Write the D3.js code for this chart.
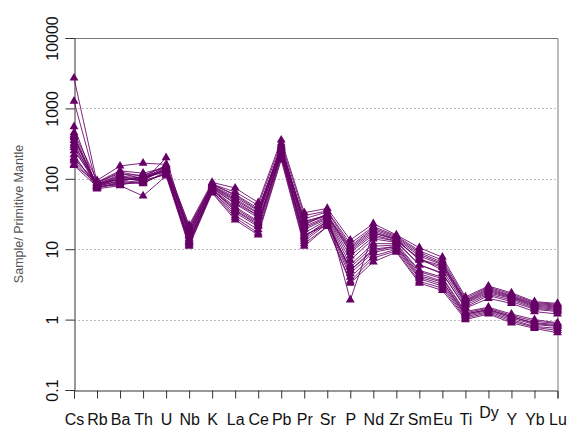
<!DOCTYPE html>
<html>
<head>
<meta charset="utf-8">
<script src="https://cdn.jsdelivr.net/npm/d3@7"></script>
<style>
  body { margin: 0; background: #fff; }
  text { font-family: Arial, "Liberation Sans", sans-serif; }
</style>
</head>
<body>
<div id="chart"></div>
<script>
// element order of the spider diagram
const elements = ["Cs","Rb","Ba","Th","U","Nb","K","La","Ce","Pb","Pr","Sr","P","Nd","Zr","Sm","Eu","Ti","Dy","Y","Yb","Lu"];
const yTicks = [0.1, 1, 10, 100, 1000, 10000];
const yTitle = "Sample/ Primitive Mantle";

// sample / primitive mantle, one array per sample
const s01 = [2700, 88, 120, 100, 150, 15, 75, 45, 30, 250, 20, 28, 8, 15, 13, 6, 4.5, 1.5, 2.2, 1.8, 1.4, 1.3];
const s02 = [1270, 80, 100, 95, 140, 18, 80, 55, 35, 280, 25, 30, 10, 18, 14, 8, 6, 1.8, 2.6, 2.1, 1.6, 1.5];
const s03 = [550, 75, 90, 110, 130, 13, 70, 35, 22, 230, 15, 25, 5, 10, 11, 4.5, 3.5, 1.2, 1.4, 1.1, 0.9, 0.85];
const s04 = [450, 95, 152, 167, 160, 22, 89, 74, 46, 355, 33, 38, 13.5, 23, 16, 10.5, 7.7, 2.1, 3.0, 2.4, 1.8, 1.7];
const s05 = [400, 72, 80, 57, 110, 11, 63, 26, 16, 186, 11, 21, 3.3, 6.6, 9.1, 3.3, 2.6, 1.0, 1.2, 0.9, 0.75, 0.65];
const s06 = [350, 85, 110, 90, 200, 16, 78, 50, 32, 300, 22, 32, 1.9, 17, 14, 7, 5.5, 1.7, 2.4, 2.0, 1.5, 1.4];
const s07 = [320, 78, 95, 105, 125, 12, 68, 30, 19, 210, 13, 23, 4, 8, 10, 3.8, 3.0, 1.1, 1.3, 1.0, 0.8, 0.75];
const s08 = [300, 82, 105, 100, 135, 20, 82, 60, 38, 260, 27, 34, 11, 20, 15, 9, 6.5, 1.9, 2.8, 2.2, 1.7, 1.6];
const s09 = [280, 76, 85, 88, 120, 14, 72, 40, 25, 240, 17, 26, 6, 12, 12, 5, 4, 1.3, 1.5, 1.2, 1.0, 0.9];
const s10 = [250, 90, 130, 120, 145, 17, 76, 48, 30, 270, 21, 29, 9, 16, 13, 7.5, 5, 1.6, 2.3, 1.9, 1.45, 1.35];
const s11 = [220, 74, 88, 95, 115, 12.5, 66, 33, 21, 220, 14, 24, 4.5, 9, 10.5, 4, 3.2, 1.15, 1.35, 1.05, 0.85, 0.8];
const s12 = [200, 84, 115, 112, 150, 19, 85, 58, 36, 290, 24, 31, 10.5, 19, 14.5, 8.5, 6.2, 1.85, 2.7, 2.15, 1.65, 1.55];
const s13 = [180, 79, 92, 85, 128, 14, 70, 38, 24, 225, 16, 22, 5.5, 11, 11.5, 4.8, 3.8, 1.25, 1.45, 1.15, 0.95, 0.88];
const s14 = [160, 86, 98, 100, 138, 16, 74, 44, 28, 255, 19, 27, 7, 14, 12.5, 6, 4.6, 1.45, 2.0, 1.7, 1.3, 1.2];
const s15 = [155, 77, 82, 92, 118, 11.5, 65, 28, 17, 200, 12, 21, 3.5, 7.5, 9.5, 3.5, 2.8, 1.05, 1.25, 0.95, 0.78, 0.7];
const s16 = [380, 81, 108, 104, 142, 18, 79, 52, 33, 275, 23, 30, 9.5, 17, 13.5, 7.2, 5.8, 1.75, 2.5, 2.05, 1.55, 1.45];
const s17 = [420, 80, 100, 98, 132, 13, 71, 36, 23, 235, 15, 25, 5, 9.5, 11, 4.2, 3.4, 1.2, 1.38, 1.1, 0.88, 0.82];
const s18 = [190, 88, 125, 108, 155, 21, 84, 65, 42, 320, 30, 35, 12, 21, 15.5, 9.5, 7, 2.0, 2.9, 2.3, 1.75, 1.65];
const samples = [s01, s02, s03, s04, s05, s06, s07, s08, s09, s10, s11, s12, s13, s14, s15, s16, s17, s18];

const width = 572, height = 428;
const margin = {top: 38, right: 14.5, bottom: 38, left: 74};
const purple = "#660066";

const svg = d3.select("#chart").append("svg")
    .attr("width", width)
    .attr("height", height);

const x = d3.scalePoint()
    .domain(elements)
    .range([margin.left, width - margin.right]);

const y = d3.scaleLog()
    .domain([0.1, 10000])
    .range([height - margin.bottom, margin.top]);

// dotted gridlines
svg.append("g")
  .selectAll("line")
  .data(yTicks.filter(d => d > 0.1 && d < 10000))
  .join("line")
    .attr("x1", margin.left)
    .attr("x2", width - margin.right)
    .attr("y1", d => Math.round(y(d)) + 0.5)
    .attr("y2", d => Math.round(y(d)) + 0.5)
    .attr("stroke", "#bdbdbd")
    .attr("stroke-dasharray", "2,2");

// plot frame (top + right)
svg.append("path")
    .attr("d", `M${margin.left},${margin.top + 0.5}H${width - margin.right + 0.5}V${height - margin.bottom}`)
    .attr("fill", "none")
    .attr("stroke", "#7a7a7a");

// y axis
const yAxis = svg.append("g")
    .attr("transform", `translate(${margin.left + 0.5},0)`)
    .call(d3.axisLeft(y).tickValues(yTicks).tickSize(9).tickFormat(d3.format("")));
yAxis.select(".domain").attr("stroke", "#333");
yAxis.selectAll(".tick line").attr("stroke", "#333");
yAxis.selectAll(".tick text")
    .attr("font-size", 16)
    .attr("fill", "#111")
    .attr("x", null).attr("dy", null)
    .attr("text-anchor", "middle")
    .attr("transform", "translate(-17,0) rotate(-90)");

// x axis
const xAxis = svg.append("g")
    .attr("transform", `translate(0,${height - margin.bottom + 0.5})`)
    .call(d3.axisBottom(x).tickSize(8).tickPadding(15));
xAxis.select(".domain").attr("stroke", "#333");
xAxis.selectAll(".tick line").attr("stroke", "#333");
xAxis.selectAll(".tick text")
    .attr("font-size", 16)
    .attr("fill", "#111")
    .attr("dy", d => d === "Dy" ? "0.3em" : "0.71em");

// y title
svg.append("text")
    .attr("transform", `translate(23,${(margin.top + height - margin.bottom) / 2}) rotate(-90)`)
    .attr("text-anchor", "middle")
    .attr("font-size", 12.5)
    .attr("fill", "#555")
    .text(yTitle);

const line = d3.line()
    .x((d, i) => x(elements[i]))
    .y(d => y(d));

const series = svg.append("g")
  .selectAll("g")
  .data(samples)
  .join("g");

series.append("path")
    .attr("d", d => line(d))
    .attr("fill", "none")
    .attr("stroke", purple)
    .attr("stroke-opacity", 0.85)
    .attr("stroke-width", 1);

const tri = d3.symbol().type(d3.symbolTriangle).size(34);
series.selectAll("path.m")
  .data(d => d.map((v, i) => ({v, i})))
  .join("path")
    .attr("class", "m")
    .attr("d", tri)
    .attr("transform", d => `translate(${x(elements[d.i])},${y(d.v)})`)
    .attr("fill", purple);
</script>
</body>
</html>
